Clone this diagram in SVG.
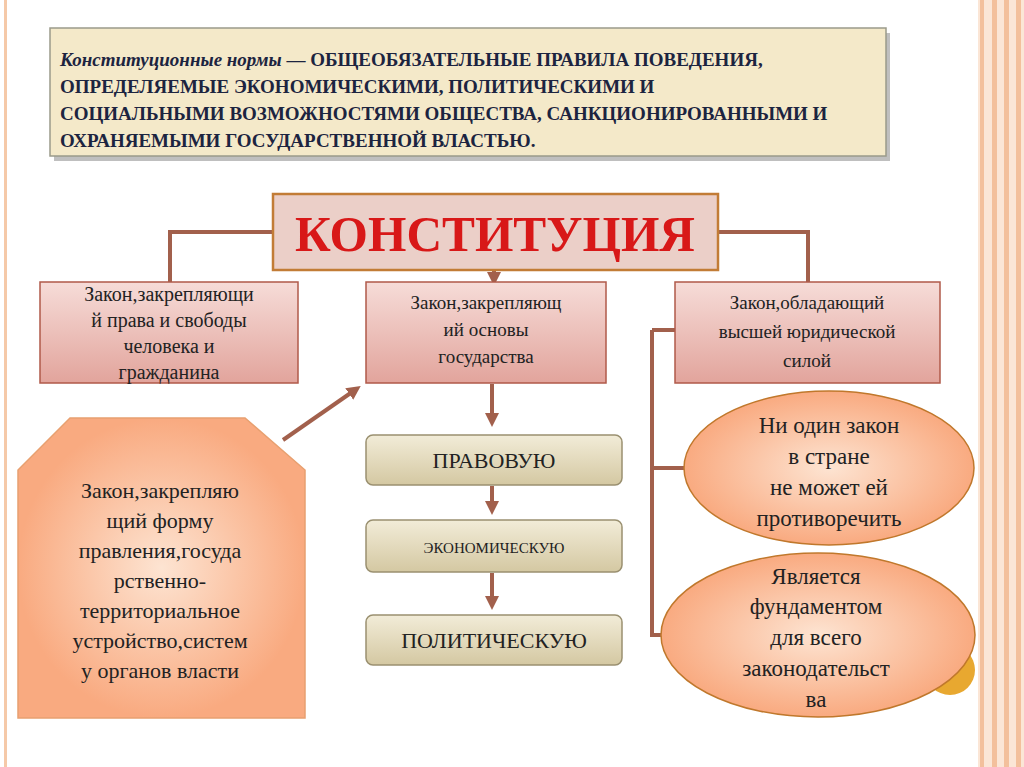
<svg xmlns="http://www.w3.org/2000/svg" width="1024" height="767" viewBox="0 0 1024 767">
<style>
.s{font-family:"Liberation Serif","DejaVu Serif",serif;fill:#222;text-anchor:middle}
.c{fill:none;stroke:#a2604c;stroke-width:4}
</style>
<defs>
<linearGradient id="pk" x1="0" y1="0" x2="0" y2="1"><stop offset="0" stop-color="#f6dcd8"/><stop offset="1" stop-color="#e2a49c"/></linearGradient>
<linearGradient id="bg" x1="0" y1="0" x2="0" y2="1"><stop offset="0" stop-color="#f2ecd8"/><stop offset="1" stop-color="#d4c8a2"/></linearGradient>
<radialGradient id="or"><stop offset="0" stop-color="#fde4d2"/><stop offset="1" stop-color="#f9aa80"/></radialGradient>
<marker id="ah" viewBox="0 0 10 10" refX="5" refY="5" markerWidth="3.5" markerHeight="3.5" orient="auto"><path d="M0,0L10,5L0,10z" fill="#a2604c"/></marker>
</defs>
<rect width="1024" height="767" fill="#fff"/>
<rect x="4" y="0" width="3" height="767" fill="#f5c9a8"/>
<rect x="978" y="0" width="46" height="767" fill="#fbe6d6"/>
<rect x="980" y="0" width="4" height="767" fill="#f3c09c"/>
<rect x="992" y="0" width="5" height="767" fill="#f3c09c"/>
<rect x="1004" y="0" width="5" height="767" fill="#f3c09c"/>
<rect x="1016" y="0" width="5" height="767" fill="#f3c09c"/>
<g id="definition">
<rect x="52" y="30" width="836" height="128" fill="#000" opacity="0.25" transform="translate(2,3)"/>
<rect x="50" y="28" width="836" height="128" fill="#f4e9c9" stroke="#9a9a8a" stroke-width="1.5"/>
<text font-family="Liberation Serif,serif" font-weight="bold" font-size="19" fill="#1c2440">
<tspan x="60" y="66"><tspan font-style="italic">Конституционные нормы</tspan> — ОБЩЕОБЯЗАТЕЛЬНЫЕ ПРАВИЛА ПОВЕДЕНИЯ,</tspan>
<tspan x="60" y="93">ОПРЕДЕЛЯЕМЫЕ ЭКОНОМИЧЕСКИМИ, ПОЛИТИЧЕСКИМИ И</tspan>
<tspan x="60" y="120">СОЦИАЛЬНЫМИ ВОЗМОЖНОСТЯМИ ОБЩЕСТВА, САНКЦИОНИРОВАННЫМИ И</tspan>
<tspan x="60" y="147">ОХРАНЯЕМЫМИ ГОСУДАРСТВЕННОЙ ВЛАСТЬЮ.</tspan></text>
</g>
<g id="connectors">
<path class="c" d="M273,232H170V282M718,232H808V282M652,330H675M652,330V635H662M652,468H686"/>
<path class="c" d="M494,270V279" marker-end="url(#ah)"/>
<path class="c" d="M492,384V420" marker-end="url(#ah)"/>
<path class="c" d="M492,486V508" marker-end="url(#ah)"/>
<path class="c" d="M492,573V603" marker-end="url(#ah)"/>
<path class="c" d="M283,440L355,390" marker-end="url(#ah)"/>
</g>
<g id="constitution">
<rect x="273" y="194" width="445" height="76" fill="#ebcfc8" stroke="#c27c36" stroke-width="2.5"/>
<text x="495" y="251" class="s" font-size="50" font-weight="bold" style="fill:#d81818" textLength="400" lengthAdjust="spacingAndGlyphs">КОНСТИТУЦИЯ</text>
</g>
<g id="law-rights">
<rect x="40" y="282" width="258" height="101" fill="url(#pk)" stroke="#b05a4a" stroke-width="1.5"/>
<text class="s" font-size="20"><tspan x="169" y="301">Закон,закрепляющи</tspan><tspan x="169" y="327">й права и свободы</tspan><tspan x="169" y="353">человека и</tspan><tspan x="169" y="379">гражданина</tspan></text>
</g>
<g id="law-basics">
<rect x="366" y="282" width="240" height="101" fill="url(#pk)" stroke="#b05a4a" stroke-width="1.5"/>
<text class="s" font-size="19"><tspan x="486" y="309">Закон,закрепляющ</tspan><tspan x="486" y="336">ий основы</tspan><tspan x="486" y="363">государства</tspan></text>
</g>
<g id="law-supreme">
<rect x="675" y="282" width="265" height="101" fill="url(#pk)" stroke="#b05a4a" stroke-width="1.5"/>
<text class="s" font-size="19"><tspan x="807" y="309">Закон,обладающий</tspan><tspan x="807" y="338">высшей юридической</tspan><tspan x="807" y="367">силой</tspan></text>
</g>
<g id="legal">
<rect x="366" y="435" width="256" height="50" rx="7" fill="url(#bg)" stroke="#9a9070" stroke-width="1.5"/>
<text x="494" y="468" class="s" font-size="22">ПРАВОВУЮ</text>
</g>
<g id="economic">
<rect x="366" y="520" width="256" height="52" rx="7" fill="url(#bg)" stroke="#9a9070" stroke-width="1.5"/>
<text x="494" y="553" class="s" font-size="15">ЭКОНОМИЧЕСКУЮ</text>
</g>
<g id="political">
<rect x="366" y="615" width="256" height="50" rx="7" fill="url(#bg)" stroke="#9a9070" stroke-width="1.5"/>
<text x="494" y="648" class="s" font-size="22">ПОЛИТИЧЕСКУЮ</text>
</g>
<g id="form">
<polygon points="70,418 245,418 305,470 305,718 18,718 18,470" fill="url(#or)" stroke="#e8a070" stroke-width="1.5"/>
<text class="s" font-size="22"><tspan x="160" y="498">Закон,закрепляю</tspan><tspan x="160" y="528">щий форму</tspan><tspan x="160" y="558">правления,госуда</tspan><tspan x="160" y="588">рственно-</tspan><tspan x="160" y="618">территориальное</tspan><tspan x="160" y="648">устройство,систем</tspan><tspan x="160" y="678">у органов власти</tspan></text>
</g>
<circle cx="950" cy="670" r="25" fill="#e8a830"/>
<g id="no-contradict">
<ellipse cx="829" cy="468" rx="145" ry="77" fill="url(#or)" stroke="#c0782c" stroke-width="1.5"/>
<text class="s" font-size="23"><tspan x="829" y="433">Ни один закон</tspan><tspan x="829" y="464">в стране</tspan><tspan x="829" y="495">не может ей</tspan><tspan x="829" y="526">противоречить</tspan></text>
</g>
<g id="foundation">
<ellipse cx="818" cy="635" rx="157" ry="82" fill="url(#or)" stroke="#c0782c" stroke-width="1.5"/>
<text class="s" font-size="23"><tspan x="816" y="584">Является</tspan><tspan x="816" y="614">фундаментом</tspan><tspan x="816" y="645">для всего</tspan><tspan x="816" y="676">законодательст</tspan><tspan x="816" y="707">ва</tspan></text>
</g>
</svg>
